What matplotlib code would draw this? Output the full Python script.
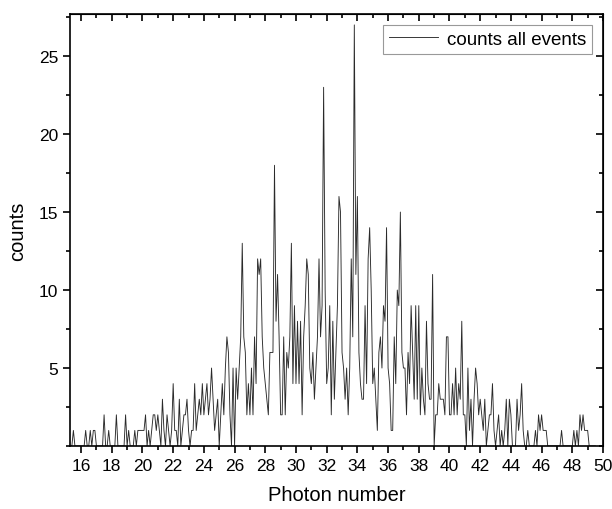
import numpy as np
import matplotlib
matplotlib.use("Agg")
from matplotlib import pyplot as plt
from matplotlib.ticker import MultipleLocator

plt.rcParams['font.family'] = ['Liberation Sans', 'DejaVu Sans']

# ---------------------------
# data: counts per photon-number bin (bin width 0.1, first bin 15.3)
# ---------------------------
x_start = 15.3
bin_width = 0.1
counts = [
    0, 0, 1, 0, 0, 0, 0,                # 15.3 - 15.9
    0, 0, 0, 1, 0, 0, 1, 0, 1, 1,       # 16
    0, 0, 0, 0, 0, 2, 0, 0, 1, 0,       # 17
    0, 0, 0, 2, 0, 0, 0, 0, 0, 2,       # 18
    0, 1, 0, 0, 0, 1, 0, 1, 1, 1,       # 19
    1, 1, 2, 0, 1, 0, 1, 2, 2, 1,       # 20
    2, 1, 0, 3, 1, 0, 2, 1, 0, 1,       # 21
    4, 1, 1, 0, 3, 0, 1, 2, 2, 3,       # 22
    1, 0, 1, 1, 4, 1, 2, 3, 2, 4,       # 23
    2, 3, 4, 2, 3, 5, 3, 1, 2, 3,       # 24
    0, 2, 4, 2, 5, 7, 6, 2, 0, 5,       # 25
    0, 5, 3, 5, 7, 13, 7, 6, 2, 4,      # 26
    2, 5, 2, 7, 4, 12, 11, 12, 7, 5,    # 27
    4, 3, 2, 6, 6, 6, 18, 8, 11, 7,     # 28
    2, 2, 7, 2, 6, 5, 7, 13, 4, 9,      # 29
    4, 8, 4, 8, 2, 7, 9, 12, 11, 5,     # 30
    4, 6, 3, 5, 7, 12, 7, 9, 23, 10,    # 31
    4, 5, 9, 2, 8, 3, 6, 9, 16, 15,     # 32
    6, 5, 3, 5, 2, 5, 12, 7, 27, 11,    # 33
    16, 6, 4, 3, 3, 9, 4, 12, 14, 10,   # 34
    4, 5, 3, 1, 6, 7, 5, 9, 8, 14,      # 35
    5, 4, 1, 1, 7, 4, 10, 9, 15, 6,     # 36
    5, 5, 2, 6, 4, 9, 6, 3, 9, 3,       # 37
    9, 2, 5, 3, 2, 8, 4, 3, 3, 11,      # 38
    0, 2, 2, 4, 3, 3, 3, 2, 7, 7,       # 39
    2, 2, 4, 2, 5, 2, 4, 3, 8, 2,       # 40
    2, 0, 5, 1, 3, 0, 3, 5, 4, 2,       # 41
    3, 2, 1, 3, 0, 1, 2, 2, 4, 1,       # 42
    0, 1, 2, 0, 1, 0, 1, 3, 0, 3,       # 43
    2, 0, 0, 0, 3, 1, 2, 4, 1, 0,       # 44
    0, 1, 0, 0, 0, 0, 1, 0, 2, 1,       # 45
    2, 1, 1, 1, 0, 0, 0, 0, 0, 0,       # 46
    0, 0, 0, 1, 0, 0, 0, 0, 0, 0,       # 47
    0, 1, 0, 1, 0, 2, 1, 2, 1, 1,       # 48
    1, 0, 0, 0, 0, 0,                   # 49.0 - 49.5
]
photon_number = x_start + bin_width * np.arange(len(counts))

x_ticks = np.arange(16, 51, 2)
y_ticks = [5, 10, 15, 20, 25]

# ---------------------------
# plot
# ---------------------------
fig = plt.figure(figsize=(6.12, 5.10), dpi=100)
ax = fig.add_axes([0.1144, 0.1235, 0.8709, 0.8471])

ax.plot(photon_number, counts, color='#2a2a2a', lw=0.65, label='counts all events')

ax.set_xlim(15.28, 50.0)
ax.set_ylim(0, 27.7)
ax.set_xticks(x_ticks)
ax.set_yticks(y_ticks)
ax.xaxis.set_minor_locator(MultipleLocator(1))
ax.yaxis.set_minor_locator(MultipleLocator(2.5))
ax.tick_params(which='both', direction='out', labelsize=12.5, width=1.2)
ax.tick_params(which='major', length=5)
ax.tick_params(which='minor', length=3)
for s in ax.spines.values():
    s.set_linewidth(1.2)

# inward ticks on top and right, no labels
top = ax.secondary_xaxis('top')
top.set_xticks(x_ticks)
top.xaxis.set_minor_locator(MultipleLocator(1))
top.tick_params(which='both', direction='in', labeltop=False, width=1.2)
top.tick_params(which='major', length=5)
top.tick_params(which='minor', length=3)
right = ax.secondary_yaxis('right')
right.set_yticks(y_ticks)
right.yaxis.set_minor_locator(MultipleLocator(2.5))
right.tick_params(which='both', direction='in', labelright=False, width=1.2)
right.tick_params(which='major', length=5)
right.tick_params(which='minor', length=3)

ax.set_xlabel('Photon number', fontsize=14.5, labelpad=9)
ax.set_ylabel('counts', fontsize=14.5, labelpad=8)

leg = ax.legend(loc='upper right', fontsize=13.5, fancybox=False, framealpha=1,
                edgecolor='#999999', handlelength=2.6, borderaxespad=0.6,
                borderpad=0.3, handletextpad=0.5)
leg.get_frame().set_linewidth(0.8)

fig.savefig("out.png", dpi=100)
